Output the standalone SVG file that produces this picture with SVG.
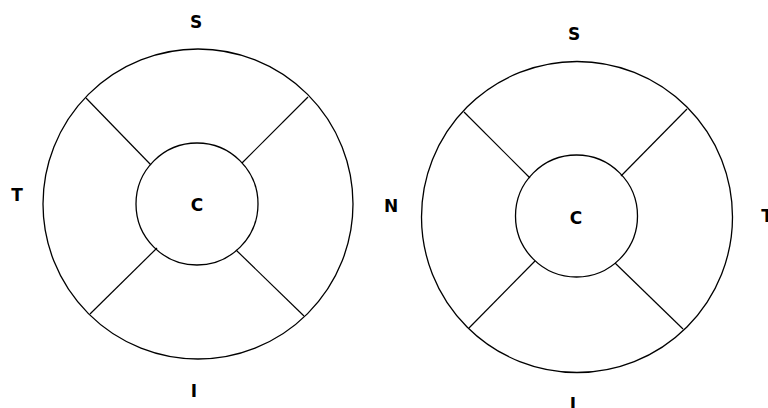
<svg xmlns="http://www.w3.org/2000/svg" width="768" height="408" viewBox="0 0 768 408">
<style>
.ring{fill:none;stroke:#000;stroke-width:1.3}
.sp{stroke:#000;stroke-width:1.2}
.lb{font-family:"DejaVu Sans",Verdana,sans-serif;font-weight:bold;font-size:17px;fill:#000;text-anchor:middle}
</style>
<rect width="768" height="408" fill="#fff"/>
<g id="left-diagram">
<circle class="ring" cx="198" cy="204" r="155"/>
<circle class="ring" cx="197" cy="204" r="61"/>
</g>
<g id="right-diagram">
<circle class="ring" cx="577" cy="217" r="155.5"/>
<circle class="ring" cx="576.5" cy="216" r="61"/>
</g>
<g id="connectors">
<line class="sp" x1="86" y1="98" x2="151" y2="165"/>
<line class="sp" x1="308" y1="97" x2="242" y2="163"/>
<line class="sp" x1="90" y1="314" x2="157" y2="248"/>
<line class="sp" x1="304" y1="316" x2="236" y2="250"/>
<line class="sp" x1="464" y1="112" x2="530" y2="178"/>
<line class="sp" x1="687" y1="109" x2="621" y2="176"/>
<line class="sp" x1="469" y1="328" x2="535" y2="261"/>
<line class="sp" x1="683" y1="329" x2="615" y2="263"/>
</g>
<g id="labels">
<text class="lb" x="196" y="28">S</text>
<text class="lb" x="17" y="201">T</text>
<text class="lb" x="391" y="212">N</text>
<text class="lb" x="197" y="211">C</text>
<text class="lb" x="194" y="397">I</text>
<text class="lb" x="574" y="40">S</text>
<text class="lb" x="576" y="224">C</text>
<text class="lb" x="767" y="222">T</text>
<text class="lb" x="573" y="410">I</text>
</g>
</svg>
